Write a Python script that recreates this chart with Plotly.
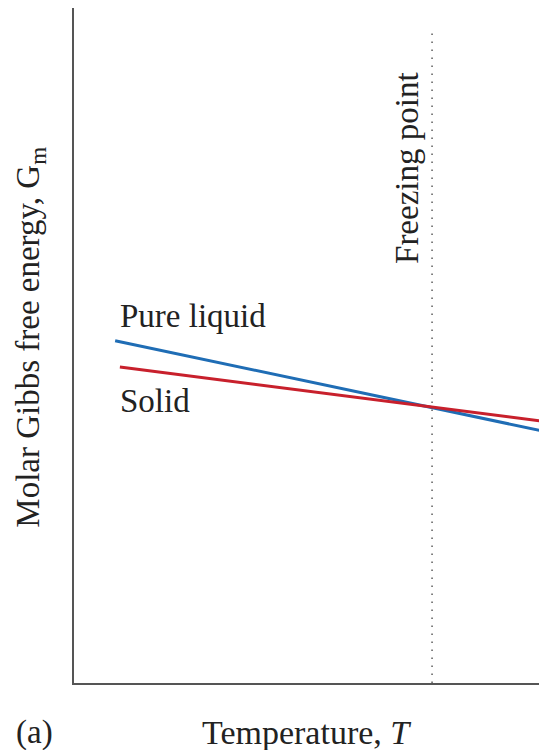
import plotly.graph_objects as go

# Schematic values (arbitrary units)
LIQUID_T = [0.87, 10.0]
LIQUID_G = [5.07, 3.72]
SOLID_T = [0.97, 10.0]
SOLID_G = [4.68, 3.87]
FREEZING_T = [7.57, 7.57]
FREEZING_G = [0.0, 9.64]

BLUE = "#1f6db5"
RED = "#c8202c"
AXIS_COLOR = "#555555"
TEXT_COLOR = "#222222"
FONT = "Liberation Serif"

fig = go.Figure()
fig.add_trace(go.Scatter(
    x=FREEZING_T, y=FREEZING_G, mode="lines",
    line=dict(color="#666666", width=1.6, dash="1.6px,6.4px"),
    hoverinfo="skip",
))
fig.add_trace(go.Scatter(
    x=LIQUID_T, y=LIQUID_G, mode="lines",
    line=dict(color=BLUE, width=3),
    name="Pure liquid",
))
fig.add_trace(go.Scatter(
    x=SOLID_T, y=SOLID_G, mode="lines",
    line=dict(color=RED, width=3),
    name="Solid",
))

text_font = dict(family=FONT, size=33, color=TEXT_COLOR)

annotations = [
    dict(x=0.93, y=5.44, xref="x", yref="y", text="Pure liquid",
         xanchor="left", yanchor="middle", showarrow=False, font=text_font),
    dict(x=0.93, y=4.18, xref="x", yref="y", text="Solid",
         xanchor="left", yanchor="middle", showarrow=False, font=text_font),
    dict(x=7.04, y=7.63, xref="x", yref="y", text="Freezing point",
         textangle=-90, xanchor="center", yanchor="middle",
         showarrow=False, font=text_font),
    dict(x=-0.091, y=0.513, xref="paper", yref="paper",
         text="Molar Gibbs free energy, G<sub>m</sub>",
         textangle=-90, xanchor="center", yanchor="middle",
         showarrow=False, font=text_font),
    dict(x=0.4905, y=-0.0726, xref="paper", yref="paper",
         text="Temperature, <i>T</i>",
         xanchor="center", yanchor="middle", showarrow=False,
         font=dict(family=FONT, size=34, color=TEXT_COLOR)),
    dict(x=-0.0825, y=-0.0726, xref="paper", yref="paper",
         text="(a)",
         xanchor="center", yanchor="middle", showarrow=False, font=text_font),
]

# the page body adds an 8px margin, so the figure is a little smaller
fig.update_layout(
    width=539, height=742,
    showlegend=False,
    plot_bgcolor="#ffffff",
    paper_bgcolor="#ffffff",
    margin=dict(l=66, r=0, t=0, b=67),
    xaxis=dict(
        range=[0, 10], showgrid=False, zeroline=False,
        showticklabels=False, ticks="",
        showline=True, linecolor=AXIS_COLOR, linewidth=2,
    ),
    yaxis=dict(
        range=[0, 10], showgrid=False, zeroline=False,
        showticklabels=False, ticks="",
        showline=True, linecolor=AXIS_COLOR, linewidth=2,
    ),
    annotations=annotations,
)

fig.write_html("out.html")
